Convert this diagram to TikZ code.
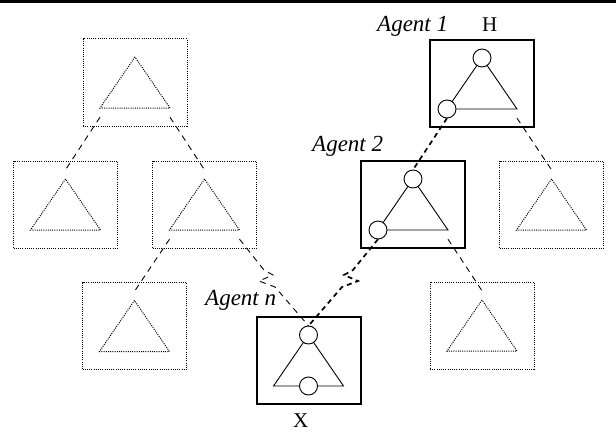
\documentclass[tikz,border=0pt]{standalone}
\usepackage{fontspec}
\setmainfont{Liberation Serif}
\usetikzlibrary{calc,backgrounds}
\tikzset{
 dotbox/.style={draw, dash pattern=on 1pt off 1.2pt, line width=1pt, minimum width=104pt, minimum height=87pt, inner sep=0pt},
 solidbox/.style={draw, line width=2pt, minimum width=104pt, minimum height=87pt, inner sep=0pt},
 vtx/.style={circle, minimum size=18pt, inner sep=0pt},
 vtxon/.style={vtx, draw, fill=white, line width=0.9pt},
 dottri/.style={dash pattern=on 1pt off 1.2pt, line width=1pt},
 soltri/.style={line width=0.9pt},
 thindash/.style={dash pattern=on 6pt off 5pt, line width=0.9pt},
 thickdash/.style={dash pattern=on 5pt off 4pt, line width=1.7pt},
 lab/.style={font=\fontsize{21}{24}\selectfont, inner sep=0pt, anchor=base west},
 itlab/.style={font=\fontsize{23}{26}\selectfont\itshape, inner sep=0pt, anchor=base west},
 toprule/.style={line width=3pt},
}
\newcommand\treebox[4]{%
 \node[#3] (#1) at (#2) {};
 \node[vtx] (#1-t) at ($(#1)+(0,-25.5)$) {};
 \node[vtx] (#1-l) at ($(#1)+(-35,25.5)$) {};
 \node[vtx] (#1-r) at ($(#1)+(35,25.5)$) {};
 \node[vtx] (#1-m) at ($(#1)+(0,25.5)$) {};
 \begin{scope}[on background layer]
 \draw[#4] (#1-t.center) -- (#1-l.center) -- (#1-r.center) -- cycle;
 \end{scope}
}
\begin{document}
\begin{tikzpicture}[x=1pt, y=-1pt]
\useasboundingbox (0,0) rectangle (616,436);
\coordinate (rl) at (0,1.5);
\coordinate (rr) at (616,1.5);
\draw[toprule] (rl) -- (rr);
% dotted tree
\treebox{A}{135,82.5}{dotbox}{dottri}
\treebox{B}{65.5,204.5}{dotbox}{dottri}
\treebox{C}{204.5,204.5}{dotbox}{dottri}
\treebox{D}{134.5,326}{dotbox}{dottri}
\treebox{E}{551.5,204.5}{dotbox}{dottri}
\treebox{F}{482,325.5}{dotbox}{dottri}
% agents
\treebox{G1}{482,83.5}{solidbox}{soltri}
\treebox{G2}{413,204.5}{solidbox}{soltri}
\treebox{Gn}{308.5,360.5}{solidbox}{soltri}
\node[vtxon] (G1-tc) at (G1-t) {};
\node[vtxon] (G1-lc) at (G1-l) {};
\node[vtxon] (G2-tc) at (G2-t) {};
\node[vtxon] (G2-lc) at (G2-l) {};
\node[vtxon] (Gn-tc) at (Gn-t) {};
\node[vtxon] (Gn-mc) at (Gn-m) {};
% zigzag points
\coordinate (z1) at (264,270);
\coordinate (z2) at (273,275);
\coordinate (z3) at (259,281);
\coordinate (z4) at (275,287);
\coordinate (y1) at (353,270);
\coordinate (y2) at (344,275);
\coordinate (y3) at (358,281);
\coordinate (y4) at (342,287);
% edges
\draw[thindash] (A-l.south) -- (B-t.north);
\draw[thindash] (A-r.south) -- (C-t.north);
\draw[thindash] (C-l.south) -- (D-t.north);
\draw[thindash] (C-r.south) -- (z1) -- (z2) -- (z3) -- (z4) -- (Gn-t.north);
\draw[thickdash] (G1-l.south) -- (G2-t.north);
\draw[thindash] (G1-r.south) -- (E-t.north);
\draw[thickdash] (G2-l.south) -- (y1) -- (y2) -- (y3) -- (y4) -- (Gn-t.north);
\draw[thindash] (G2-r.south) -- (F-t.north);
% labels
\node[itlab] (l1) at (377,32) {Agent 1};
\node[lab] (lH) at (482,32) {H};
\node[itlab] (l2) at (312,151) {Agent 2};
\node[itlab] (ln) at (205,305) {Agent n};
\node[lab] (lX) at (293,427) {X};
\end{tikzpicture}
\end{document}
